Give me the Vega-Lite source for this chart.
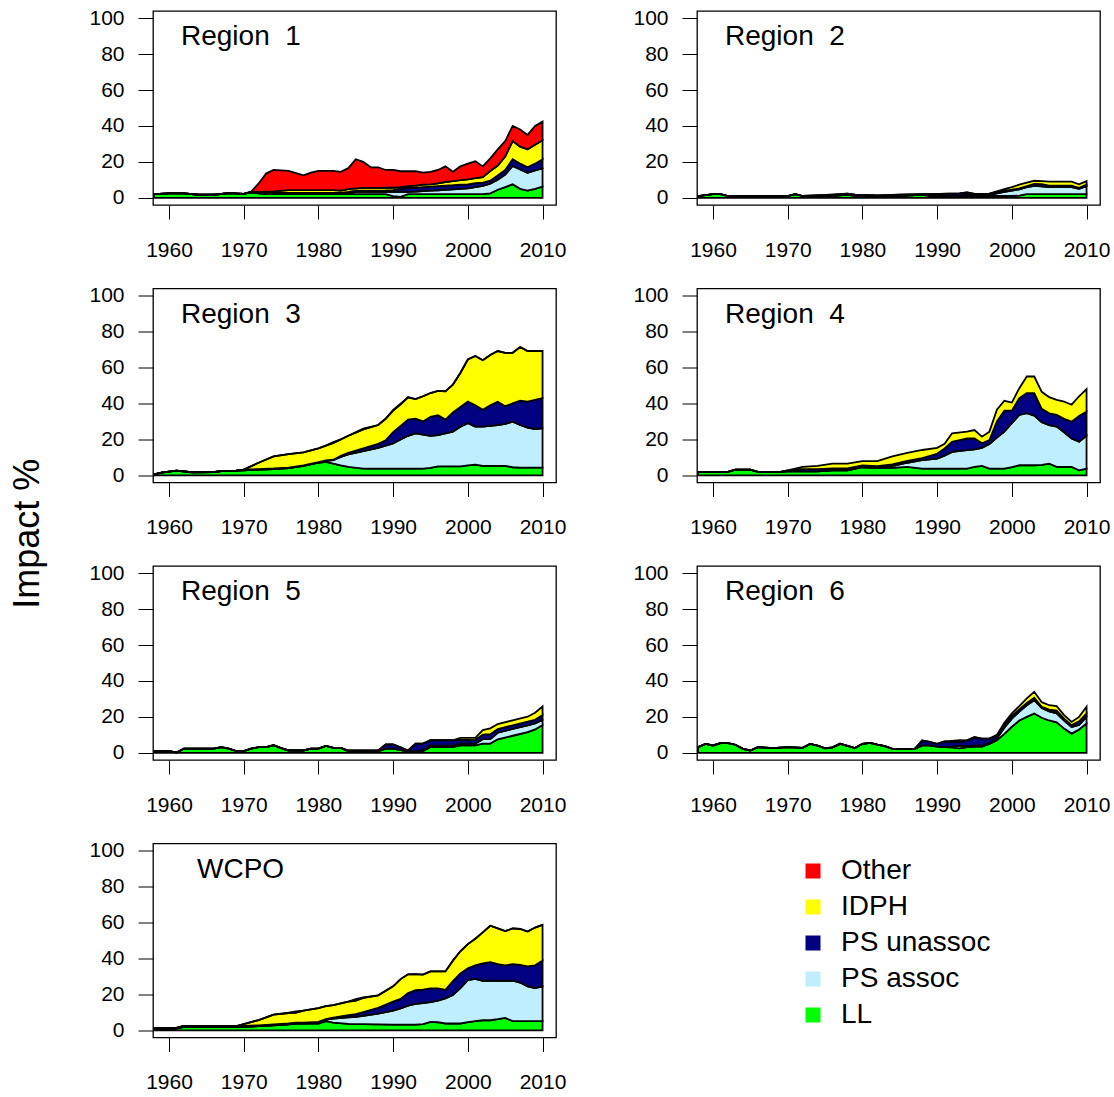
{
"$schema":"https://vega.github.io/schema/vega-lite/v6.json",
"padding":{"left":10,"top":6,"right":4,"bottom":4},
"background":"white",
"config":{"font":"Liberation Sans","view":{"stroke":"black","strokeWidth":1.3},
"axis":{"domain":false,"grid":false,"tickColor":"black","tickWidth":1,"labelFontSize":21,"labelColor":"black","labelFont":"Liberation Sans","title":null},
"axisX":{"tickSize":14,"labelPadding":20,"labelFlush":false,"labelOverlap":false},
"axisY":{"tickSize":15,"labelPadding":14},
"legend":{"title":null,"symbolType":"square","symbolSize":225,"labelFontSize":28,"labelFont":"Liberation Sans","labelColor":"black","rowPadding":8,"labelOffset":14,"padding":0,"symbolStrokeWidth":0,"symbolOpacity":1}},
"title":{"text":"Impact %","orient":"left","anchor":"middle","fontSize":36,"fontWeight":"normal","font":"Liberation Sans","color":"black","offset":41,"dx":16},
"bounds":"flush","columns":2,"spacing":{"row":83.5,"column":141},
"datasets":{
"cats":[{"c":"LL","k":1},{"c":"PS assoc","k":2},{"c":"PS unassoc","k":3},{"c":"IDPH","k":4},{"c":"Other","k":5}],
"r1":[
{"t":1958,"c":"LL","v":2},{"t":1960,"c":"LL","v":2.5},{"t":1962,"c":"LL","v":2.5},{"t":1964,"c":"LL","v":1.7},{"t":1966,"c":"LL","v":1.7},{"t":1968,"c":"LL","v":2.6},{"t":1970,"c":"LL","v":2.2},{"t":1971,"c":"LL","v":3},{"t":1972,"c":"LL","v":2.5},{"t":1973,"c":"LL","v":2},{"t":1974,"c":"LL","v":2},{"t":1976,"c":"LL","v":2},{"t":1978,"c":"LL","v":2},{"t":1979,"c":"LL","v":2},{"t":1980,"c":"LL","v":2},{"t":1982,"c":"LL","v":2},{"t":1983,"c":"LL","v":2},{"t":1984,"c":"LL","v":2},{"t":1985,"c":"LL","v":2},{"t":1986,"c":"LL","v":2},{"t":1987,"c":"LL","v":2},{"t":1988,"c":"LL","v":2},{"t":1989,"c":"LL","v":2},{"t":1990,"c":"LL","v":1},{"t":1991,"c":"LL","v":0.5},{"t":1992,"c":"LL","v":2},{"t":1993,"c":"LL","v":2},{"t":1994,"c":"LL","v":2},{"t":1995,"c":"LL","v":2},{"t":1996,"c":"LL","v":2},{"t":1997,"c":"LL","v":2},{"t":1998,"c":"LL","v":2},{"t":1999,"c":"LL","v":2},{"t":2000,"c":"LL","v":2},{"t":2001,"c":"LL","v":2},{"t":2002,"c":"LL","v":2},{"t":2003,"c":"LL","v":2.5},{"t":2004,"c":"LL","v":4.5},{"t":2005,"c":"LL","v":6},{"t":2006,"c":"LL","v":7.5},{"t":2007,"c":"LL","v":5},{"t":2008,"c":"LL","v":4},{"t":2009,"c":"LL","v":5},{"t":2010,"c":"LL","v":6.3},
{"t":1983,"c":"PS assoc","v":0},{"t":1984,"c":"PS assoc","v":0.5},{"t":1985,"c":"PS assoc","v":1.3},{"t":1986,"c":"PS assoc","v":1.3},{"t":1987,"c":"PS assoc","v":1.3},{"t":1988,"c":"PS assoc","v":1.3},{"t":1989,"c":"PS assoc","v":1.3},{"t":1990,"c":"PS assoc","v":2.3},{"t":1991,"c":"PS assoc","v":3},{"t":1992,"c":"PS assoc","v":1.3},{"t":1993,"c":"PS assoc","v":1.5},{"t":1994,"c":"PS assoc","v":1.8},{"t":1995,"c":"PS assoc","v":2},{"t":1996,"c":"PS assoc","v":2.2},{"t":1997,"c":"PS assoc","v":2.5},{"t":1998,"c":"PS assoc","v":2.7},{"t":1999,"c":"PS assoc","v":3},{"t":2000,"c":"PS assoc","v":3.3},{"t":2001,"c":"PS assoc","v":4},{"t":2002,"c":"PS assoc","v":4.6},{"t":2003,"c":"PS assoc","v":5.4},{"t":2004,"c":"PS assoc","v":5.5},{"t":2005,"c":"PS assoc","v":7},{"t":2006,"c":"PS assoc","v":10.2},{"t":2007,"c":"PS assoc","v":10.8},{"t":2008,"c":"PS assoc","v":10},{"t":2009,"c":"PS assoc","v":10.3},{"t":2010,"c":"PS assoc","v":10.1},
{"t":1970,"c":"PS unassoc","v":0},{"t":1971,"c":"PS unassoc","v":0.3},{"t":1972,"c":"PS unassoc","v":0.5},{"t":1973,"c":"PS unassoc","v":0.7},{"t":1974,"c":"PS unassoc","v":0.8},{"t":1976,"c":"PS unassoc","v":0.8},{"t":1978,"c":"PS unassoc","v":0.8},{"t":1979,"c":"PS unassoc","v":0.8},{"t":1980,"c":"PS unassoc","v":0.8},{"t":1982,"c":"PS unassoc","v":0.8},{"t":1983,"c":"PS unassoc","v":0.8},{"t":1984,"c":"PS unassoc","v":0.8},{"t":1985,"c":"PS unassoc","v":0.7},{"t":1986,"c":"PS unassoc","v":0.7},{"t":1987,"c":"PS unassoc","v":0.7},{"t":1988,"c":"PS unassoc","v":0.7},{"t":1989,"c":"PS unassoc","v":0.8},{"t":1990,"c":"PS unassoc","v":1},{"t":1991,"c":"PS unassoc","v":1.5},{"t":1992,"c":"PS unassoc","v":2.2},{"t":1993,"c":"PS unassoc","v":2.2},{"t":1994,"c":"PS unassoc","v":2.2},{"t":1995,"c":"PS unassoc","v":2.2},{"t":1996,"c":"PS unassoc","v":2.3},{"t":1997,"c":"PS unassoc","v":2.3},{"t":1998,"c":"PS unassoc","v":2.3},{"t":1999,"c":"PS unassoc","v":2.3},{"t":2000,"c":"PS unassoc","v":2.2},{"t":2001,"c":"PS unassoc","v":2.2},{"t":2002,"c":"PS unassoc","v":1.9},{"t":2003,"c":"PS unassoc","v":1.6},{"t":2004,"c":"PS unassoc","v":2.5},{"t":2005,"c":"PS unassoc","v":2.5},{"t":2006,"c":"PS unassoc","v":3.8},{"t":2007,"c":"PS unassoc","v":3.2},{"t":2008,"c":"PS unassoc","v":3},{"t":2009,"c":"PS unassoc","v":3.7},{"t":2010,"c":"PS unassoc","v":5.1},
{"t":1971,"c":"IDPH","v":0},{"t":1972,"c":"IDPH","v":0.3},{"t":1973,"c":"IDPH","v":0.8},{"t":1974,"c":"IDPH","v":0.8},{"t":1976,"c":"IDPH","v":1.5},{"t":1978,"c":"IDPH","v":1.5},{"t":1979,"c":"IDPH","v":1.5},{"t":1980,"c":"IDPH","v":1.5},{"t":1982,"c":"IDPH","v":1.5},{"t":1983,"c":"IDPH","v":1.2},{"t":1984,"c":"IDPH","v":1.5},{"t":1985,"c":"IDPH","v":1.3},{"t":1986,"c":"IDPH","v":1.5},{"t":1987,"c":"IDPH","v":1.5},{"t":1988,"c":"IDPH","v":1.5},{"t":1989,"c":"IDPH","v":1.5},{"t":1990,"c":"IDPH","v":1.3},{"t":1991,"c":"IDPH","v":1},{"t":1992,"c":"IDPH","v":1},{"t":1993,"c":"IDPH","v":1.1},{"t":1994,"c":"IDPH","v":1.3},{"t":1995,"c":"IDPH","v":1.3},{"t":1996,"c":"IDPH","v":1.5},{"t":1997,"c":"IDPH","v":2},{"t":1998,"c":"IDPH","v":2.3},{"t":1999,"c":"IDPH","v":2.5},{"t":2000,"c":"IDPH","v":2.8},{"t":2001,"c":"IDPH","v":2.8},{"t":2002,"c":"IDPH","v":3},{"t":2003,"c":"IDPH","v":5.4},{"t":2004,"c":"IDPH","v":5.5},{"t":2005,"c":"IDPH","v":7.5},{"t":2006,"c":"IDPH","v":10.1},{"t":2007,"c":"IDPH","v":9.5},{"t":2008,"c":"IDPH","v":10},{"t":2009,"c":"IDPH","v":10.5},{"t":2010,"c":"IDPH","v":10.5},
{"t":1970,"c":"Other","v":0},{"t":1971,"c":"Other","v":0.2},{"t":1972,"c":"Other","v":4.7},{"t":1973,"c":"Other","v":10},{"t":1974,"c":"Other","v":11.9},{"t":1976,"c":"Other","v":10.7},{"t":1978,"c":"Other","v":8.2},{"t":1979,"c":"Other","v":9.7},{"t":1980,"c":"Other","v":10.7},{"t":1982,"c":"Other","v":10.7},{"t":1983,"c":"Other","v":10.5},{"t":1984,"c":"Other","v":11.7},{"t":1985,"c":"Other","v":16.2},{"t":1986,"c":"Other","v":14.5},{"t":1987,"c":"Other","v":11.5},{"t":1988,"c":"Other","v":11.5},{"t":1989,"c":"Other","v":9.9},{"t":1990,"c":"Other","v":9.9},{"t":1991,"c":"Other","v":8.8},{"t":1992,"c":"Other","v":8.3},{"t":1993,"c":"Other","v":8},{"t":1994,"c":"Other","v":6.7},{"t":1995,"c":"Other","v":7},{"t":1996,"c":"Other","v":7.5},{"t":1997,"c":"Other","v":8.7},{"t":1998,"c":"Other","v":5.2},{"t":1999,"c":"Other","v":7.7},{"t":2000,"c":"Other","v":8.7},{"t":2001,"c":"Other","v":9.3},{"t":2002,"c":"Other","v":6},{"t":2003,"c":"Other","v":7.1},{"t":2004,"c":"Other","v":9},{"t":2005,"c":"Other","v":8.6},{"t":2006,"c":"Other","v":8.4},{"t":2007,"c":"Other","v":9.5},{"t":2008,"c":"Other","v":8},{"t":2009,"c":"Other","v":10.5},{"t":2010,"c":"Other","v":10.4}
],
"r2":[
{"t":1958,"c":"LL","v":1},{"t":1960,"c":"LL","v":2},{"t":1961,"c":"LL","v":2},{"t":1962,"c":"LL","v":1},{"t":1970,"c":"LL","v":1},{"t":1971,"c":"LL","v":2},{"t":1972,"c":"LL","v":1},{"t":1976,"c":"LL","v":1},{"t":1978,"c":"LL","v":1.8},{"t":1979,"c":"LL","v":1},{"t":1982,"c":"LL","v":1},{"t":1985,"c":"LL","v":1},{"t":1988,"c":"LL","v":1.8},{"t":1989,"c":"LL","v":1},{"t":1993,"c":"LL","v":1},{"t":1994,"c":"LL","v":1},{"t":1995,"c":"LL","v":1},{"t":1997,"c":"LL","v":1},{"t":1998,"c":"LL","v":1},{"t":1999,"c":"LL","v":1},{"t":2000,"c":"LL","v":1},{"t":2001,"c":"LL","v":1.2},{"t":2002,"c":"LL","v":2},{"t":2003,"c":"LL","v":2},{"t":2004,"c":"LL","v":2},{"t":2005,"c":"LL","v":2},{"t":2008,"c":"LL","v":2},{"t":2009,"c":"LL","v":2},{"t":2010,"c":"LL","v":2},
{"t":1993,"c":"PS assoc","v":0},{"t":1994,"c":"PS assoc","v":1.2},{"t":1995,"c":"PS assoc","v":0.2},{"t":1997,"c":"PS assoc","v":0.5},{"t":1998,"c":"PS assoc","v":1.5},{"t":1999,"c":"PS assoc","v":2.3},{"t":2000,"c":"PS assoc","v":3},{"t":2001,"c":"PS assoc","v":3.5},{"t":2002,"c":"PS assoc","v":4},{"t":2003,"c":"PS assoc","v":4.6},{"t":2004,"c":"PS assoc","v":4.4},{"t":2005,"c":"PS assoc","v":4},{"t":2008,"c":"PS assoc","v":4},{"t":2009,"c":"PS assoc","v":3},{"t":2010,"c":"PS assoc","v":4.5},
{"t":1972,"c":"PS unassoc","v":0},{"t":1976,"c":"PS unassoc","v":0.8},{"t":1978,"c":"PS unassoc","v":0.5},{"t":1979,"c":"PS unassoc","v":0.8},{"t":1982,"c":"PS unassoc","v":0.3},{"t":1985,"c":"PS unassoc","v":0.8},{"t":1988,"c":"PS unassoc","v":0.3},{"t":1989,"c":"PS unassoc","v":1},{"t":1993,"c":"PS unassoc","v":1.5},{"t":1994,"c":"PS unassoc","v":0.8},{"t":1995,"c":"PS unassoc","v":1},{"t":1997,"c":"PS unassoc","v":0.8},{"t":1998,"c":"PS unassoc","v":0.8},{"t":1999,"c":"PS unassoc","v":0.6},{"t":2000,"c":"PS unassoc","v":0.5},{"t":2001,"c":"PS unassoc","v":0.6},{"t":2002,"c":"PS unassoc","v":0.5},{"t":2003,"c":"PS unassoc","v":1.2},{"t":2004,"c":"PS unassoc","v":1.2},{"t":2005,"c":"PS unassoc","v":0.8},{"t":2008,"c":"PS unassoc","v":0.8},{"t":2009,"c":"PS unassoc","v":0.6},{"t":2010,"c":"PS unassoc","v":0.8},
{"t":1997,"c":"IDPH","v":0},{"t":1998,"c":"IDPH","v":0.3},{"t":1999,"c":"IDPH","v":1},{"t":2000,"c":"IDPH","v":1.5},{"t":2001,"c":"IDPH","v":2},{"t":2002,"c":"IDPH","v":2},{"t":2003,"c":"IDPH","v":1.7},{"t":2004,"c":"IDPH","v":1.7},{"t":2005,"c":"IDPH","v":2.2},{"t":2008,"c":"IDPH","v":2.2},{"t":2009,"c":"IDPH","v":1.9},{"t":2010,"c":"IDPH","v":2}
],
"r3":[
{"t":1958,"c":"LL","v":0.5},{"t":1959,"c":"LL","v":1.5},{"t":1961,"c":"LL","v":2.6},{"t":1963,"c":"LL","v":1.7},{"t":1966,"c":"LL","v":1.8},{"t":1967,"c":"LL","v":2.4},{"t":1969,"c":"LL","v":2.6},{"t":1970,"c":"LL","v":2.8},{"t":1972,"c":"LL","v":3.2},{"t":1974,"c":"LL","v":3.5},{"t":1976,"c":"LL","v":4},{"t":1978,"c":"LL","v":5.2},{"t":1980,"c":"LL","v":7},{"t":1981,"c":"LL","v":7.5},{"t":1982,"c":"LL","v":6.5},{"t":1983,"c":"LL","v":5.5},{"t":1984,"c":"LL","v":4.7},{"t":1986,"c":"LL","v":3.7},{"t":1988,"c":"LL","v":3.7},{"t":1989,"c":"LL","v":3.7},{"t":1990,"c":"LL","v":3.7},{"t":1991,"c":"LL","v":3.7},{"t":1992,"c":"LL","v":3.7},{"t":1993,"c":"LL","v":3.7},{"t":1994,"c":"LL","v":3.7},{"t":1995,"c":"LL","v":4.2},{"t":1996,"c":"LL","v":5},{"t":1997,"c":"LL","v":5},{"t":1998,"c":"LL","v":5},{"t":1999,"c":"LL","v":5},{"t":2000,"c":"LL","v":5.5},{"t":2001,"c":"LL","v":6},{"t":2002,"c":"LL","v":5.2},{"t":2003,"c":"LL","v":5.2},{"t":2004,"c":"LL","v":5.2},{"t":2005,"c":"LL","v":5.2},{"t":2006,"c":"LL","v":4.5},{"t":2007,"c":"LL","v":4.3},{"t":2008,"c":"LL","v":4.3},{"t":2009,"c":"LL","v":4.3},{"t":2010,"c":"LL","v":4.3},
{"t":1980,"c":"PS assoc","v":0},{"t":1981,"c":"PS assoc","v":0.5},{"t":1982,"c":"PS assoc","v":1.9},{"t":1983,"c":"PS assoc","v":4.8},{"t":1984,"c":"PS assoc","v":6.9},{"t":1986,"c":"PS assoc","v":9.8},{"t":1988,"c":"PS assoc","v":11.6},{"t":1989,"c":"PS assoc","v":12.8},{"t":1990,"c":"PS assoc","v":14.1},{"t":1991,"c":"PS assoc","v":16.3},{"t":1992,"c":"PS assoc","v":18.3},{"t":1993,"c":"PS assoc","v":19.7},{"t":1994,"c":"PS assoc","v":19},{"t":1995,"c":"PS assoc","v":17.8},{"t":1996,"c":"PS assoc","v":17.4},{"t":1997,"c":"PS assoc","v":18.4},{"t":1998,"c":"PS assoc","v":19.3},{"t":1999,"c":"PS assoc","v":22.1},{"t":2000,"c":"PS assoc","v":23.5},{"t":2001,"c":"PS assoc","v":21.1},{"t":2002,"c":"PS assoc","v":21.9},{"t":2003,"c":"PS assoc","v":22.3},{"t":2004,"c":"PS assoc","v":22.8},{"t":2005,"c":"PS assoc","v":23.4},{"t":2006,"c":"PS assoc","v":25.4},{"t":2007,"c":"PS assoc","v":23.7},{"t":2008,"c":"PS assoc","v":22.2},{"t":2009,"c":"PS assoc","v":21.5},{"t":2010,"c":"PS assoc","v":21.9},
{"t":1969,"c":"PS unassoc","v":0},{"t":1970,"c":"PS unassoc","v":0.3},{"t":1972,"c":"PS unassoc","v":0.3},{"t":1974,"c":"PS unassoc","v":0.3},{"t":1976,"c":"PS unassoc","v":0.3},{"t":1978,"c":"PS unassoc","v":0.3},{"t":1980,"c":"PS unassoc","v":0.3},{"t":1981,"c":"PS unassoc","v":0.3},{"t":1982,"c":"PS unassoc","v":0.3},{"t":1983,"c":"PS unassoc","v":0.5},{"t":1984,"c":"PS unassoc","v":0.9},{"t":1986,"c":"PS unassoc","v":1.5},{"t":1988,"c":"PS unassoc","v":2.2},{"t":1989,"c":"PS unassoc","v":3},{"t":1990,"c":"PS unassoc","v":6.2},{"t":1991,"c":"PS unassoc","v":7.5},{"t":1992,"c":"PS unassoc","v":9},{"t":1993,"c":"PS unassoc","v":8.1},{"t":1994,"c":"PS unassoc","v":7.3},{"t":1995,"c":"PS unassoc","v":10.5},{"t":1996,"c":"PS unassoc","v":11.1},{"t":1997,"c":"PS unassoc","v":7.6},{"t":1998,"c":"PS unassoc","v":10.7},{"t":1999,"c":"PS unassoc","v":10.9},{"t":2000,"c":"PS unassoc","v":12},{"t":2001,"c":"PS unassoc","v":11.9},{"t":2002,"c":"PS unassoc","v":9.4},{"t":2003,"c":"PS unassoc","v":11.5},{"t":2004,"c":"PS unassoc","v":13},{"t":2005,"c":"PS unassoc","v":9.9},{"t":2006,"c":"PS unassoc","v":10.1},{"t":2007,"c":"PS unassoc","v":13.5},{"t":2008,"c":"PS unassoc","v":14.5},{"t":2009,"c":"PS unassoc","v":16.2},{"t":2010,"c":"PS unassoc","v":16.8},
{"t":1969,"c":"IDPH","v":0},{"t":1970,"c":"IDPH","v":0.1},{"t":1972,"c":"IDPH","v":3.5},{"t":1974,"c":"IDPH","v":6.7},{"t":1976,"c":"IDPH","v":7.5},{"t":1978,"c":"IDPH","v":7.3},{"t":1980,"c":"IDPH","v":7.7},{"t":1981,"c":"IDPH","v":8.2},{"t":1982,"c":"IDPH","v":9.4},{"t":1983,"c":"IDPH","v":9.2},{"t":1984,"c":"IDPH","v":9.5},{"t":1986,"c":"IDPH","v":10.6},{"t":1988,"c":"IDPH","v":10.5},{"t":1989,"c":"IDPH","v":12},{"t":1990,"c":"IDPH","v":12},{"t":1991,"c":"IDPH","v":12},{"t":1992,"c":"IDPH","v":12.4},{"t":1993,"c":"IDPH","v":10.9},{"t":1994,"c":"IDPH","v":14},{"t":1995,"c":"IDPH","v":13.3},{"t":1996,"c":"IDPH","v":13.5},{"t":1997,"c":"IDPH","v":15.7},{"t":1998,"c":"IDPH","v":15.5},{"t":1999,"c":"IDPH","v":19},{"t":2000,"c":"IDPH","v":23.5},{"t":2001,"c":"IDPH","v":27.4},{"t":2002,"c":"IDPH","v":27.6},{"t":2003,"c":"IDPH","v":28},{"t":2004,"c":"IDPH","v":28.2},{"t":2005,"c":"IDPH","v":29.7},{"t":2006,"c":"IDPH","v":28.2},{"t":2007,"c":"IDPH","v":29.9},{"t":2008,"c":"IDPH","v":28.2},{"t":2009,"c":"IDPH","v":27.2},{"t":2010,"c":"IDPH","v":26.2},
{"t":1981,"c":"Other","v":0},{"t":1982,"c":"Other","v":0.4},{"t":1983,"c":"Other","v":0},{"t":1984,"c":"Other","v":0},{"t":1986,"c":"Other","v":0.4},{"t":1988,"c":"Other","v":0},{"t":1989,"c":"Other","v":0},{"t":1990,"c":"Other","v":0.4},{"t":1991,"c":"Other","v":0.4},{"t":1992,"c":"Other","v":0}
],
"r4":[
{"t":1958,"c":"LL","v":1.9},{"t":1962,"c":"LL","v":1.9},{"t":1963,"c":"LL","v":3.2},{"t":1965,"c":"LL","v":3.2},{"t":1966,"c":"LL","v":1.9},{"t":1969,"c":"LL","v":1.9},{"t":1970,"c":"LL","v":2.2},{"t":1972,"c":"LL","v":2.2},{"t":1974,"c":"LL","v":2.2},{"t":1976,"c":"LL","v":2.8},{"t":1978,"c":"LL","v":2.8},{"t":1980,"c":"LL","v":4.5},{"t":1982,"c":"LL","v":4.1},{"t":1984,"c":"LL","v":4.1},{"t":1986,"c":"LL","v":4.7},{"t":1988,"c":"LL","v":3.7},{"t":1990,"c":"LL","v":3.7},{"t":1991,"c":"LL","v":3.7},{"t":1992,"c":"LL","v":3.7},{"t":1994,"c":"LL","v":3.7},{"t":1995,"c":"LL","v":4.7},{"t":1996,"c":"LL","v":5.2},{"t":1997,"c":"LL","v":3.7},{"t":1998,"c":"LL","v":3.7},{"t":1999,"c":"LL","v":3.7},{"t":2000,"c":"LL","v":4.5},{"t":2001,"c":"LL","v":5.6},{"t":2002,"c":"LL","v":5.6},{"t":2003,"c":"LL","v":5.6},{"t":2004,"c":"LL","v":5.8},{"t":2005,"c":"LL","v":6.5},{"t":2006,"c":"LL","v":4.7},{"t":2007,"c":"LL","v":4.7},{"t":2008,"c":"LL","v":4.7},{"t":2009,"c":"LL","v":2.8},{"t":2010,"c":"LL","v":3.7},
{"t":1982,"c":"PS assoc","v":0},{"t":1984,"c":"PS assoc","v":1},{"t":1986,"c":"PS assoc","v":2.3},{"t":1988,"c":"PS assoc","v":4.7},{"t":1990,"c":"PS assoc","v":5.6},{"t":1991,"c":"PS assoc","v":7.3},{"t":1992,"c":"PS assoc","v":9.3},{"t":1994,"c":"PS assoc","v":10.3},{"t":1995,"c":"PS assoc","v":9.8},{"t":1996,"c":"PS assoc","v":10.1},{"t":1997,"c":"PS assoc","v":13.8},{"t":1998,"c":"PS assoc","v":17.3},{"t":1999,"c":"PS assoc","v":20.6},{"t":2000,"c":"PS assoc","v":24.5},{"t":2001,"c":"PS assoc","v":28},{"t":2002,"c":"PS assoc","v":29},{"t":2003,"c":"PS assoc","v":27.6},{"t":2004,"c":"PS assoc","v":23.7},{"t":2005,"c":"PS assoc","v":21.5},{"t":2006,"c":"PS assoc","v":22.4},{"t":2007,"c":"PS assoc","v":19.3},{"t":2008,"c":"PS assoc","v":15.8},{"t":2009,"c":"PS assoc","v":15.9},{"t":2010,"c":"PS assoc","v":18.3},
{"t":1969,"c":"PS unassoc","v":0},{"t":1970,"c":"PS unassoc","v":0.5},{"t":1972,"c":"PS unassoc","v":1.3},{"t":1974,"c":"PS unassoc","v":1.2},{"t":1976,"c":"PS unassoc","v":1},{"t":1978,"c":"PS unassoc","v":1},{"t":1980,"c":"PS unassoc","v":1},{"t":1982,"c":"PS unassoc","v":1},{"t":1984,"c":"PS unassoc","v":1},{"t":1986,"c":"PS unassoc","v":1},{"t":1988,"c":"PS unassoc","v":1.2},{"t":1990,"c":"PS unassoc","v":2.7},{"t":1991,"c":"PS unassoc","v":4},{"t":1992,"c":"PS unassoc","v":5.7},{"t":1994,"c":"PS unassoc","v":6.5},{"t":1995,"c":"PS unassoc","v":6.1},{"t":1996,"c":"PS unassoc","v":2.5},{"t":1997,"c":"PS unassoc","v":2.1},{"t":1998,"c":"PS unassoc","v":9},{"t":1999,"c":"PS unassoc","v":11.7},{"t":2000,"c":"PS unassoc","v":7},{"t":2001,"c":"PS unassoc","v":9.4},{"t":2002,"c":"PS unassoc","v":11.2},{"t":2003,"c":"PS unassoc","v":12.6},{"t":2004,"c":"PS unassoc","v":7.5},{"t":2005,"c":"PS unassoc","v":6.5},{"t":2006,"c":"PS unassoc","v":6.5},{"t":2007,"c":"PS unassoc","v":7.5},{"t":2008,"c":"PS unassoc","v":9.4},{"t":2009,"c":"PS unassoc","v":14.3},{"t":2010,"c":"PS unassoc","v":13.5},
{"t":1970,"c":"IDPH","v":0},{"t":1972,"c":"IDPH","v":1.2},{"t":1974,"c":"IDPH","v":1.8},{"t":1976,"c":"IDPH","v":2.7},{"t":1978,"c":"IDPH","v":2.7},{"t":1980,"c":"IDPH","v":2.4},{"t":1982,"c":"IDPH","v":2.8},{"t":1984,"c":"IDPH","v":4.5},{"t":1986,"c":"IDPH","v":4.5},{"t":1988,"c":"IDPH","v":4.5},{"t":1990,"c":"IDPH","v":3.3},{"t":1991,"c":"IDPH","v":2.5},{"t":1992,"c":"IDPH","v":4.7},{"t":1994,"c":"IDPH","v":3.8},{"t":1995,"c":"IDPH","v":4.6},{"t":1996,"c":"IDPH","v":3.7},{"t":1997,"c":"IDPH","v":4.7},{"t":1998,"c":"IDPH","v":6.5},{"t":1999,"c":"IDPH","v":5.5},{"t":2000,"c":"IDPH","v":4.5},{"t":2001,"c":"IDPH","v":5.5},{"t":2002,"c":"IDPH","v":9.2},{"t":2003,"c":"IDPH","v":9.2},{"t":2004,"c":"IDPH","v":9.5},{"t":2005,"c":"IDPH","v":9},{"t":2006,"c":"IDPH","v":8.4},{"t":2007,"c":"IDPH","v":9.5},{"t":2008,"c":"IDPH","v":9.4},{"t":2009,"c":"IDPH","v":11},{"t":2010,"c":"IDPH","v":12.5}
],
"r5":[
{"t":1958,"c":"LL","v":0.9},{"t":1960,"c":"LL","v":0.9},{"t":1961,"c":"LL","v":0.2},{"t":1962,"c":"LL","v":2.3},{"t":1966,"c":"LL","v":2.3},{"t":1967,"c":"LL","v":3.2},{"t":1968,"c":"LL","v":2.3},{"t":1969,"c":"LL","v":0.9},{"t":1970,"c":"LL","v":0.9},{"t":1971,"c":"LL","v":2.3},{"t":1972,"c":"LL","v":3.2},{"t":1973,"c":"LL","v":3.2},{"t":1974,"c":"LL","v":4.2},{"t":1975,"c":"LL","v":2.6},{"t":1976,"c":"LL","v":1.3},{"t":1978,"c":"LL","v":1.3},{"t":1979,"c":"LL","v":2.3},{"t":1980,"c":"LL","v":2.3},{"t":1981,"c":"LL","v":3.8},{"t":1982,"c":"LL","v":2.8},{"t":1983,"c":"LL","v":2.8},{"t":1984,"c":"LL","v":0.8},{"t":1988,"c":"LL","v":0.8},{"t":1989,"c":"LL","v":2.3},{"t":1990,"c":"LL","v":2.3},{"t":1991,"c":"LL","v":1.5},{"t":1992,"c":"LL","v":0.8},{"t":1993,"c":"LL","v":1},{"t":1994,"c":"LL","v":1},{"t":1995,"c":"LL","v":3.2},{"t":1998,"c":"LL","v":3.2},{"t":1999,"c":"LL","v":4.2},{"t":2001,"c":"LL","v":4.2},{"t":2002,"c":"LL","v":5.1},{"t":2003,"c":"LL","v":5.1},{"t":2004,"c":"LL","v":7.5},{"t":2006,"c":"LL","v":9.5},{"t":2008,"c":"LL","v":11.5},{"t":2009,"c":"LL","v":13},{"t":2010,"c":"LL","v":15.5},
{"t":1993,"c":"PS assoc","v":0},{"t":1994,"c":"PS assoc","v":0.5},{"t":1995,"c":"PS assoc","v":0.8},{"t":1998,"c":"PS assoc","v":0.8},{"t":1999,"c":"PS assoc","v":0.9},{"t":2001,"c":"PS assoc","v":0.9},{"t":2002,"c":"PS assoc","v":2.5},{"t":2003,"c":"PS assoc","v":2.5},{"t":2004,"c":"PS assoc","v":3.7},{"t":2006,"c":"PS assoc","v":3.8},{"t":2008,"c":"PS assoc","v":3.8},{"t":2009,"c":"PS assoc","v":3.4},{"t":2010,"c":"PS assoc","v":2.8},
{"t":1983,"c":"PS unassoc","v":0},{"t":1984,"c":"PS unassoc","v":0.5},{"t":1988,"c":"PS unassoc","v":0.5},{"t":1989,"c":"PS unassoc","v":2.4},{"t":1990,"c":"PS unassoc","v":2.4},{"t":1991,"c":"PS unassoc","v":1.5},{"t":1992,"c":"PS unassoc","v":0.5},{"t":1993,"c":"PS unassoc","v":4.1},{"t":1994,"c":"PS unassoc","v":3.6},{"t":1995,"c":"PS unassoc","v":3},{"t":1998,"c":"PS unassoc","v":3},{"t":1999,"c":"PS unassoc","v":2.2},{"t":2001,"c":"PS unassoc","v":2},{"t":2002,"c":"PS unassoc","v":2.5},{"t":2003,"c":"PS unassoc","v":2.8},{"t":2004,"c":"PS unassoc","v":2},{"t":2006,"c":"PS unassoc","v":2},{"t":2008,"c":"PS unassoc","v":2},{"t":2009,"c":"PS unassoc","v":2},{"t":2010,"c":"PS unassoc","v":2.8},
{"t":1998,"c":"IDPH","v":0},{"t":1999,"c":"IDPH","v":1},{"t":2001,"c":"IDPH","v":1.2},{"t":2002,"c":"IDPH","v":2.5},{"t":2003,"c":"IDPH","v":3.2},{"t":2004,"c":"IDPH","v":2.8},{"t":2006,"c":"IDPH","v":2.8},{"t":2008,"c":"IDPH","v":2.8},{"t":2009,"c":"IDPH","v":3.9},{"t":2010,"c":"IDPH","v":4.7}
],
"r6":[
{"t":1958,"c":"LL","v":3.2},{"t":1959,"c":"LL","v":5},{"t":1960,"c":"LL","v":4.1},{"t":1961,"c":"LL","v":5.4},{"t":1962,"c":"LL","v":5.4},{"t":1963,"c":"LL","v":4.5},{"t":1964,"c":"LL","v":2.2},{"t":1965,"c":"LL","v":1.3},{"t":1966,"c":"LL","v":3.2},{"t":1968,"c":"LL","v":2.6},{"t":1970,"c":"LL","v":3.2},{"t":1972,"c":"LL","v":2.8},{"t":1973,"c":"LL","v":5},{"t":1974,"c":"LL","v":4},{"t":1975,"c":"LL","v":2.5},{"t":1976,"c":"LL","v":3},{"t":1977,"c":"LL","v":5},{"t":1978,"c":"LL","v":3.8},{"t":1979,"c":"LL","v":2.6},{"t":1980,"c":"LL","v":5},{"t":1981,"c":"LL","v":5.5},{"t":1982,"c":"LL","v":4.5},{"t":1983,"c":"LL","v":3.7},{"t":1984,"c":"LL","v":2.2},{"t":1987,"c":"LL","v":2.2},{"t":1988,"c":"LL","v":4.1},{"t":1989,"c":"LL","v":4.1},{"t":1990,"c":"LL","v":3.5},{"t":1991,"c":"LL","v":3.2},{"t":1992,"c":"LL","v":3},{"t":1993,"c":"LL","v":2.5},{"t":1994,"c":"LL","v":3.2},{"t":1995,"c":"LL","v":3.5},{"t":1996,"c":"LL","v":3.5},{"t":1997,"c":"LL","v":5},{"t":1998,"c":"LL","v":7},{"t":1999,"c":"LL","v":10.5},{"t":2000,"c":"LL","v":14.5},{"t":2001,"c":"LL","v":18},{"t":2002,"c":"LL","v":20},{"t":2003,"c":"LL","v":21.9},{"t":2004,"c":"LL","v":19.5},{"t":2005,"c":"LL","v":18},{"t":2006,"c":"LL","v":17},{"t":2007,"c":"LL","v":13.5},{"t":2008,"c":"LL","v":10.7},{"t":2009,"c":"LL","v":13},{"t":2010,"c":"LL","v":16.3},
{"t":1991,"c":"PS assoc","v":0},{"t":1992,"c":"PS assoc","v":0.5},{"t":1993,"c":"PS assoc","v":1.5},{"t":1994,"c":"PS assoc","v":0.5},{"t":1995,"c":"PS assoc","v":0.5},{"t":1996,"c":"PS assoc","v":0.5},{"t":1997,"c":"PS assoc","v":0.5},{"t":1998,"c":"PS assoc","v":1},{"t":1999,"c":"PS assoc","v":3.5},{"t":2000,"c":"PS assoc","v":4.5},{"t":2001,"c":"PS assoc","v":5},{"t":2002,"c":"PS assoc","v":6.5},{"t":2003,"c":"PS assoc","v":7.4},{"t":2004,"c":"PS assoc","v":5.5},{"t":2005,"c":"PS assoc","v":5},{"t":2006,"c":"PS assoc","v":5},{"t":2007,"c":"PS assoc","v":4.5},{"t":2008,"c":"PS assoc","v":3.7},{"t":2009,"c":"PS assoc","v":2.5},{"t":2010,"c":"PS assoc","v":3.7},
{"t":1987,"c":"PS unassoc","v":0},{"t":1988,"c":"PS unassoc","v":2.8},{"t":1989,"c":"PS unassoc","v":2},{"t":1990,"c":"PS unassoc","v":1.5},{"t":1991,"c":"PS unassoc","v":3.2},{"t":1992,"c":"PS unassoc","v":2.5},{"t":1993,"c":"PS unassoc","v":2},{"t":1994,"c":"PS unassoc","v":3.2},{"t":1995,"c":"PS unassoc","v":4.5},{"t":1996,"c":"PS unassoc","v":3.9},{"t":1997,"c":"PS unassoc","v":2.4},{"t":1998,"c":"PS unassoc","v":1.5},{"t":1999,"c":"PS unassoc","v":1.5},{"t":2000,"c":"PS unassoc","v":1.5},{"t":2001,"c":"PS unassoc","v":1.2},{"t":2002,"c":"PS unassoc","v":1.2},{"t":2003,"c":"PS unassoc","v":1.4},{"t":2004,"c":"PS unassoc","v":0.6},{"t":2005,"c":"PS unassoc","v":1},{"t":2006,"c":"PS unassoc","v":1.5},{"t":2007,"c":"PS unassoc","v":1},{"t":2008,"c":"PS unassoc","v":1},{"t":2009,"c":"PS unassoc","v":2},{"t":2010,"c":"PS unassoc","v":1.9},
{"t":1991,"c":"IDPH","v":0},{"t":1992,"c":"IDPH","v":0.7},{"t":1993,"c":"IDPH","v":1},{"t":1994,"c":"IDPH","v":0},{"t":1995,"c":"IDPH","v":0.3},{"t":1996,"c":"IDPH","v":0},{"t":1997,"c":"IDPH","v":0},{"t":1998,"c":"IDPH","v":0.5},{"t":1999,"c":"IDPH","v":1.2},{"t":2000,"c":"IDPH","v":1.5},{"t":2001,"c":"IDPH","v":1.8},{"t":2002,"c":"IDPH","v":2.6},{"t":2003,"c":"IDPH","v":3.3},{"t":2004,"c":"IDPH","v":2.6},{"t":2005,"c":"IDPH","v":2.5},{"t":2006,"c":"IDPH","v":2.5},{"t":2007,"c":"IDPH","v":2},{"t":2008,"c":"IDPH","v":1.8},{"t":2009,"c":"IDPH","v":2.5},{"t":2010,"c":"IDPH","v":3.7}
],
"r7":[
{"t":1958,"c":"LL","v":0.9},{"t":1961,"c":"LL","v":0.9},{"t":1962,"c":"LL","v":1.9},{"t":1969,"c":"LL","v":1.9},{"t":1970,"c":"LL","v":1.9},{"t":1972,"c":"LL","v":2.3},{"t":1974,"c":"LL","v":2.8},{"t":1976,"c":"LL","v":3.3},{"t":1977,"c":"LL","v":3.8},{"t":1978,"c":"LL","v":3.8},{"t":1980,"c":"LL","v":3.8},{"t":1981,"c":"LL","v":5.1},{"t":1982,"c":"LL","v":4.3},{"t":1984,"c":"LL","v":3.6},{"t":1985,"c":"LL","v":3.4},{"t":1986,"c":"LL","v":3.4},{"t":1988,"c":"LL","v":3.3},{"t":1990,"c":"LL","v":3.2},{"t":1991,"c":"LL","v":3.2},{"t":1992,"c":"LL","v":3.2},{"t":1993,"c":"LL","v":3.2},{"t":1994,"c":"LL","v":3.5},{"t":1995,"c":"LL","v":4.7},{"t":1996,"c":"LL","v":4.5},{"t":1997,"c":"LL","v":3.8},{"t":1998,"c":"LL","v":3.8},{"t":1999,"c":"LL","v":3.8},{"t":2000,"c":"LL","v":4.5},{"t":2001,"c":"LL","v":5.1},{"t":2002,"c":"LL","v":5.6},{"t":2003,"c":"LL","v":5.6},{"t":2004,"c":"LL","v":6.2},{"t":2005,"c":"LL","v":6.9},{"t":2006,"c":"LL","v":5.1},{"t":2007,"c":"LL","v":5.1},{"t":2008,"c":"LL","v":5.1},{"t":2009,"c":"LL","v":5.1},{"t":2010,"c":"LL","v":5.1},
{"t":1978,"c":"PS assoc","v":0},{"t":1980,"c":"PS assoc","v":0.5},{"t":1981,"c":"PS assoc","v":0.8},{"t":1982,"c":"PS assoc","v":2.2},{"t":1984,"c":"PS assoc","v":3.6},{"t":1985,"c":"PS assoc","v":4.1},{"t":1986,"c":"PS assoc","v":4.7},{"t":1988,"c":"PS assoc","v":6},{"t":1990,"c":"PS assoc","v":7.8},{"t":1991,"c":"PS assoc","v":9},{"t":1992,"c":"PS assoc","v":10.5},{"t":1993,"c":"PS assoc","v":11.5},{"t":1994,"c":"PS assoc","v":11.6},{"t":1995,"c":"PS assoc","v":11},{"t":1996,"c":"PS assoc","v":12},{"t":1997,"c":"PS assoc","v":14},{"t":1998,"c":"PS assoc","v":15.8},{"t":1999,"c":"PS assoc","v":19.7},{"t":2000,"c":"PS assoc","v":23.5},{"t":2001,"c":"PS assoc","v":23.5},{"t":2002,"c":"PS assoc","v":22},{"t":2003,"c":"PS assoc","v":22},{"t":2004,"c":"PS assoc","v":21.4},{"t":2005,"c":"PS assoc","v":20.7},{"t":2006,"c":"PS assoc","v":22.5},{"t":2007,"c":"PS assoc","v":21.5},{"t":2008,"c":"PS assoc","v":19.3},{"t":2009,"c":"PS assoc","v":18.4},{"t":2010,"c":"PS assoc","v":19.3},
{"t":1958,"c":"PS unassoc","v":0.4},{"t":1961,"c":"PS unassoc","v":0.4},{"t":1962,"c":"PS unassoc","v":0.5},{"t":1969,"c":"PS unassoc","v":0.5},{"t":1970,"c":"PS unassoc","v":0.6},{"t":1972,"c":"PS unassoc","v":0.5},{"t":1974,"c":"PS unassoc","v":0.5},{"t":1976,"c":"PS unassoc","v":0.5},{"t":1977,"c":"PS unassoc","v":0.5},{"t":1978,"c":"PS unassoc","v":0.5},{"t":1980,"c":"PS unassoc","v":0.4},{"t":1981,"c":"PS unassoc","v":0.4},{"t":1982,"c":"PS unassoc","v":0.5},{"t":1984,"c":"PS unassoc","v":1.2},{"t":1985,"c":"PS unassoc","v":1.5},{"t":1986,"c":"PS unassoc","v":2},{"t":1988,"c":"PS unassoc","v":3.2},{"t":1990,"c":"PS unassoc","v":5},{"t":1991,"c":"PS unassoc","v":5.3},{"t":1992,"c":"PS unassoc","v":7},{"t":1993,"c":"PS unassoc","v":7.6},{"t":1994,"c":"PS unassoc","v":7.6},{"t":1995,"c":"PS unassoc","v":7.6},{"t":1996,"c":"PS unassoc","v":6.8},{"t":1997,"c":"PS unassoc","v":4.7},{"t":1998,"c":"PS unassoc","v":7.8},{"t":1999,"c":"PS unassoc","v":8.2},{"t":2000,"c":"PS unassoc","v":6.5},{"t":2001,"c":"PS unassoc","v":7.6},{"t":2002,"c":"PS unassoc","v":9.6},{"t":2003,"c":"PS unassoc","v":10.3},{"t":2004,"c":"PS unassoc","v":9.2},{"t":2005,"c":"PS unassoc","v":8.6},{"t":2006,"c":"PS unassoc","v":9.2},{"t":2007,"c":"PS unassoc","v":9.8},{"t":2008,"c":"PS unassoc","v":11.2},{"t":2009,"c":"PS unassoc","v":12.7},{"t":2010,"c":"PS unassoc","v":14.4},
{"t":1969,"c":"IDPH","v":0},{"t":1970,"c":"IDPH","v":1},{"t":1972,"c":"IDPH","v":2.9},{"t":1974,"c":"IDPH","v":5.4},{"t":1976,"c":"IDPH","v":5.8},{"t":1977,"c":"IDPH","v":5.5},{"t":1978,"c":"IDPH","v":6.7},{"t":1980,"c":"IDPH","v":7.6},{"t":1981,"c":"IDPH","v":7.2},{"t":1982,"c":"IDPH","v":7},{"t":1984,"c":"IDPH","v":7.6},{"t":1985,"c":"IDPH","v":7.5},{"t":1986,"c":"IDPH","v":8},{"t":1988,"c":"IDPH","v":7},{"t":1990,"c":"IDPH","v":8.5},{"t":1991,"c":"IDPH","v":11},{"t":1992,"c":"IDPH","v":10.5},{"t":1993,"c":"IDPH","v":9},{"t":1994,"c":"IDPH","v":8.3},{"t":1995,"c":"IDPH","v":9.5},{"t":1996,"c":"IDPH","v":9.5},{"t":1997,"c":"IDPH","v":10.3},{"t":1998,"c":"IDPH","v":11.4},{"t":1999,"c":"IDPH","v":12.3},{"t":2000,"c":"IDPH","v":13.5},{"t":2001,"c":"IDPH","v":14.8},{"t":2002,"c":"IDPH","v":17.3},{"t":2003,"c":"IDPH","v":20.3},{"t":2004,"c":"IDPH","v":20},{"t":2005,"c":"IDPH","v":19},{"t":2006,"c":"IDPH","v":19.9},{"t":2007,"c":"IDPH","v":20},{"t":2008,"c":"IDPH","v":19.4},{"t":2009,"c":"IDPH","v":21},{"t":2010,"c":"IDPH","v":19.9},
{"t":1974,"c":"Other","v":0},{"t":1976,"c":"Other","v":0.3},{"t":1977,"c":"Other","v":0.8},{"t":1978,"c":"Other","v":0},{"t":1980,"c":"Other","v":0},{"t":1981,"c":"Other","v":0},{"t":1982,"c":"Other","v":0},{"t":1984,"c":"Other","v":0},{"t":1985,"c":"Other","v":0.8},{"t":1986,"c":"Other","v":0.3},{"t":1988,"c":"Other","v":0}
]
},
"concat":[
{"width":403,"height":194,"data":{"name":"r1"},"transform":[{"lookup":"c","from":{"data":{"name":"cats"},"key":"c","fields":["k"]}}],
"title":{"text":"Region\u00a0\u00a01","anchor":"start","frame":"group","fontSize":28,"fontWeight":"normal","font":"Liberation Sans","color":"black","baseline":"alphabetic","offset":0,"dx":28,"dy":66},
"mark":{"type":"area","stroke":"black","strokeWidth":1.8,"strokeJoin":"miter"},
"encoding":{"x":{"field":"t","type":"quantitative","scale":{"domain":[1957.86,2011.8],"nice":false,"zero":false},"axis":{"values":[1960,1970,1980,1990,2000,2010],"format":"d"}},
"y":{"field":"v","type":"quantitative","stack":"zero","scale":{"domain":[-4,104],"nice":false},"axis":{"values":[0,20,40,60,80,100]}},
"color":{"field":"c","type":"nominal","scale":{"domain":["Other","IDPH","PS unassoc","PS assoc","LL"],"range":["#FF0000","#FFFF00","#000080","#BFEFFF","#00FF00"]},"legend":{"orient":"none","legendX":646,"legendY":846}},
"order":{"field":"k","type":"quantitative"}}},
{"width":403,"height":194,"data":{"name":"r2"},"transform":[{"lookup":"c","from":{"data":{"name":"cats"},"key":"c","fields":["k"]}}],
"title":{"text":"Region\u00a0\u00a02","anchor":"start","frame":"group","fontSize":28,"fontWeight":"normal","font":"Liberation Sans","color":"black","baseline":"alphabetic","offset":0,"dx":28,"dy":66},
"mark":{"type":"area","stroke":"black","strokeWidth":1.8,"strokeJoin":"miter"},
"encoding":{"x":{"field":"t","type":"quantitative","scale":{"domain":[1957.86,2011.8],"nice":false,"zero":false},"axis":{"values":[1960,1970,1980,1990,2000,2010],"format":"d"}},
"y":{"field":"v","type":"quantitative","stack":"zero","scale":{"domain":[-4,104],"nice":false},"axis":{"values":[0,20,40,60,80,100]}},
"color":{"field":"c","type":"nominal","scale":{"domain":["Other","IDPH","PS unassoc","PS assoc","LL"],"range":["#FF0000","#FFFF00","#000080","#BFEFFF","#00FF00"]},"legend":{"orient":"none","legendX":646,"legendY":846}},
"order":{"field":"k","type":"quantitative"}}},
{"width":403,"height":194,"data":{"name":"r3"},"transform":[{"lookup":"c","from":{"data":{"name":"cats"},"key":"c","fields":["k"]}}],
"title":{"text":"Region\u00a0\u00a03","anchor":"start","frame":"group","fontSize":28,"fontWeight":"normal","font":"Liberation Sans","color":"black","baseline":"alphabetic","offset":0,"dx":28,"dy":66},
"mark":{"type":"area","stroke":"black","strokeWidth":1.8,"strokeJoin":"miter"},
"encoding":{"x":{"field":"t","type":"quantitative","scale":{"domain":[1957.86,2011.8],"nice":false,"zero":false},"axis":{"values":[1960,1970,1980,1990,2000,2010],"format":"d"}},
"y":{"field":"v","type":"quantitative","stack":"zero","scale":{"domain":[-4,104],"nice":false},"axis":{"values":[0,20,40,60,80,100]}},
"color":{"field":"c","type":"nominal","scale":{"domain":["Other","IDPH","PS unassoc","PS assoc","LL"],"range":["#FF0000","#FFFF00","#000080","#BFEFFF","#00FF00"]},"legend":{"orient":"none","legendX":646,"legendY":846}},
"order":{"field":"k","type":"quantitative"}}},
{"width":403,"height":194,"data":{"name":"r4"},"transform":[{"lookup":"c","from":{"data":{"name":"cats"},"key":"c","fields":["k"]}}],
"title":{"text":"Region\u00a0\u00a04","anchor":"start","frame":"group","fontSize":28,"fontWeight":"normal","font":"Liberation Sans","color":"black","baseline":"alphabetic","offset":0,"dx":28,"dy":66},
"mark":{"type":"area","stroke":"black","strokeWidth":1.8,"strokeJoin":"miter"},
"encoding":{"x":{"field":"t","type":"quantitative","scale":{"domain":[1957.86,2011.8],"nice":false,"zero":false},"axis":{"values":[1960,1970,1980,1990,2000,2010],"format":"d"}},
"y":{"field":"v","type":"quantitative","stack":"zero","scale":{"domain":[-4,104],"nice":false},"axis":{"values":[0,20,40,60,80,100]}},
"color":{"field":"c","type":"nominal","scale":{"domain":["Other","IDPH","PS unassoc","PS assoc","LL"],"range":["#FF0000","#FFFF00","#000080","#BFEFFF","#00FF00"]},"legend":{"orient":"none","legendX":646,"legendY":846}},
"order":{"field":"k","type":"quantitative"}}},
{"width":403,"height":194,"data":{"name":"r5"},"transform":[{"lookup":"c","from":{"data":{"name":"cats"},"key":"c","fields":["k"]}}],
"title":{"text":"Region\u00a0\u00a05","anchor":"start","frame":"group","fontSize":28,"fontWeight":"normal","font":"Liberation Sans","color":"black","baseline":"alphabetic","offset":0,"dx":28,"dy":66},
"mark":{"type":"area","stroke":"black","strokeWidth":1.8,"strokeJoin":"miter"},
"encoding":{"x":{"field":"t","type":"quantitative","scale":{"domain":[1957.86,2011.8],"nice":false,"zero":false},"axis":{"values":[1960,1970,1980,1990,2000,2010],"format":"d"}},
"y":{"field":"v","type":"quantitative","stack":"zero","scale":{"domain":[-4,104],"nice":false},"axis":{"values":[0,20,40,60,80,100]}},
"color":{"field":"c","type":"nominal","scale":{"domain":["Other","IDPH","PS unassoc","PS assoc","LL"],"range":["#FF0000","#FFFF00","#000080","#BFEFFF","#00FF00"]},"legend":{"orient":"none","legendX":646,"legendY":846}},
"order":{"field":"k","type":"quantitative"}}},
{"width":403,"height":194,"data":{"name":"r6"},"transform":[{"lookup":"c","from":{"data":{"name":"cats"},"key":"c","fields":["k"]}}],
"title":{"text":"Region\u00a0\u00a06","anchor":"start","frame":"group","fontSize":28,"fontWeight":"normal","font":"Liberation Sans","color":"black","baseline":"alphabetic","offset":0,"dx":28,"dy":66},
"mark":{"type":"area","stroke":"black","strokeWidth":1.8,"strokeJoin":"miter"},
"encoding":{"x":{"field":"t","type":"quantitative","scale":{"domain":[1957.86,2011.8],"nice":false,"zero":false},"axis":{"values":[1960,1970,1980,1990,2000,2010],"format":"d"}},
"y":{"field":"v","type":"quantitative","stack":"zero","scale":{"domain":[-4,104],"nice":false},"axis":{"values":[0,20,40,60,80,100]}},
"color":{"field":"c","type":"nominal","scale":{"domain":["Other","IDPH","PS unassoc","PS assoc","LL"],"range":["#FF0000","#FFFF00","#000080","#BFEFFF","#00FF00"]},"legend":{"orient":"none","legendX":646,"legendY":846}},
"order":{"field":"k","type":"quantitative"}}},
{"width":403,"height":194,"data":{"name":"r7"},"transform":[{"lookup":"c","from":{"data":{"name":"cats"},"key":"c","fields":["k"]}}],
"title":{"text":"WCPO","anchor":"start","frame":"group","fontSize":28,"fontWeight":"normal","font":"Liberation Sans","color":"black","baseline":"alphabetic","offset":0,"dx":44,"dy":66},
"mark":{"type":"area","stroke":"black","strokeWidth":1.8,"strokeJoin":"miter"},
"encoding":{"x":{"field":"t","type":"quantitative","scale":{"domain":[1957.86,2011.8],"nice":false,"zero":false},"axis":{"values":[1960,1970,1980,1990,2000,2010],"format":"d"}},
"y":{"field":"v","type":"quantitative","stack":"zero","scale":{"domain":[-4,104],"nice":false},"axis":{"values":[0,20,40,60,80,100]}},
"color":{"field":"c","type":"nominal","scale":{"domain":["Other","IDPH","PS unassoc","PS assoc","LL"],"range":["#FF0000","#FFFF00","#000080","#BFEFFF","#00FF00"]},"legend":{"orient":"none","legendX":646,"legendY":846}},
"order":{"field":"k","type":"quantitative"}}}
]
}
